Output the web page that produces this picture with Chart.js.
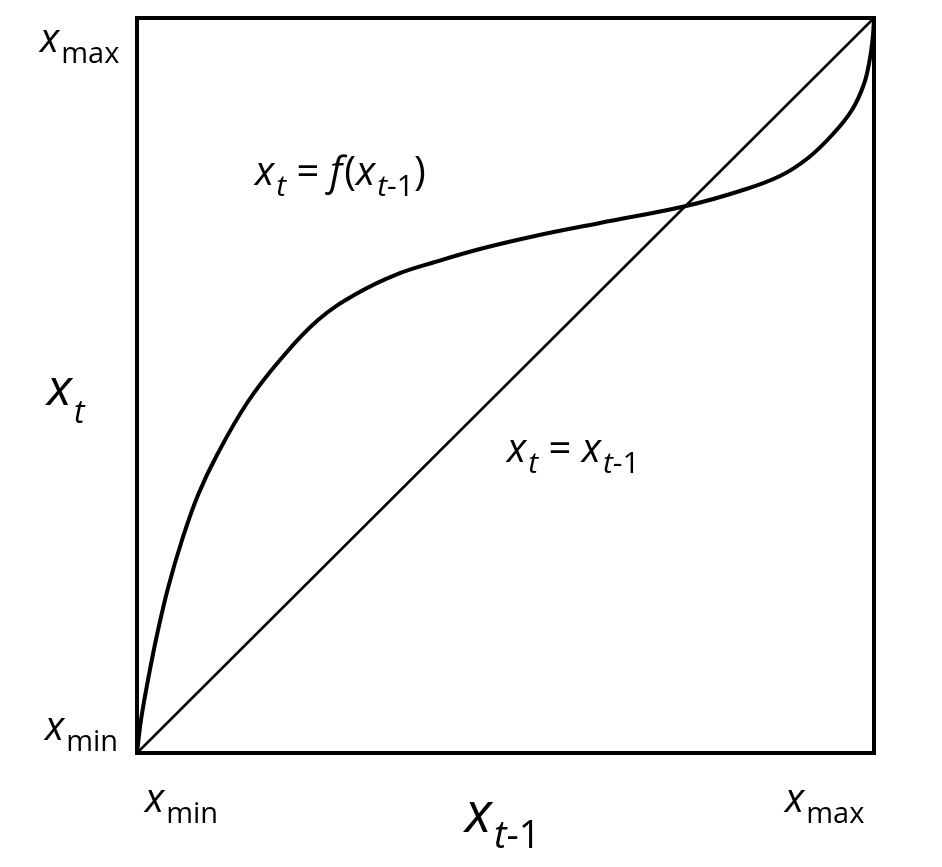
<!DOCTYPE html>
<html>
<head>
<meta charset="utf-8">
<title>Cobweb map</title>
<script src="https://cdn.jsdelivr.net/npm/chart.js@4/dist/chart.umd.min.js"></script>
<style>
  html, body { margin: 0; padding: 0; background: #fff; }
  canvas { display: block; }
</style>
</head>
<body>
<canvas id="chart" width="942" height="867"></canvas>
<script>
// ── Data (fraction of the range xmin..xmax) ────────────────────────────────
const curveX = [0, 0.0054, 0.0149, 0.0271, 0.0421, 0.0611, 0.0828, 0.1085, 0.1493, 0.194,
  0.2456, 0.2972, 0.3501, 0.4043, 0.4654, 0.54, 0.6282, 0.7449, 0.8182, 0.8725,
  0.9105, 0.9444, 0.9701, 0.9864, 0.9946, 0.9986, 1];
const curveY = [0, 0.0449, 0.0993, 0.1605, 0.2245, 0.2898, 0.351, 0.4054, 0.4762, 0.5347,
  0.5891, 0.6245, 0.6503, 0.668, 0.6857, 0.7034, 0.7211, 0.7442, 0.7646, 0.785,
  0.8095, 0.8422, 0.8748, 0.9102, 0.9456, 0.9769, 1];
const diagX = [0, 1];
const diagY = [0, 1];

const FONT = '"Open Sans", "DejaVu Sans", sans-serif';

// text pieces: [text, size, italic, subscript]
const labels = [
  { x: 40, y: 52, runs: [['x', 40, true, false], ['max', 29, false, true]] },
  { x: 45, y: 740, runs: [['x', 40, true, false], ['min', 29, false, true]] },
  { x: 145, y: 812, runs: [['x', 40, true, false], ['min', 29, false, true]] },
  { x: 785, y: 812, runs: [['x', 40, true, false], ['max', 29, false, true]] },
  { x: 47, y: 405, runs: [['x', 52, true, false], ['t', 32, true, true]], sub: 18 },
  { x: 465, y: 832, runs: [['x', 56, true, false], ['t', 38, true, true], ['-1', 38, false, true]], sub: 16 },
  { x: 255, y: 185, runs: [['x', 40, true, false], ['t', 30, true, true], [' = ', 40, false, false],
    ['f', 40, true, false], ['(', 40, false, false], ['x', 40, true, false],
    ['t', 30, true, true], ['-1', 30, false, true], [')', 40, false, false]] },
  { x: 507, y: 462, runs: [['x', 40, true, false], ['t', 30, true, true], [' = ', 40, false, false],
    ['x', 40, true, false], ['t', 30, true, true], ['-1', 30, false, true]] },
];

const toPoints = (xs, ys) => xs.map((x, i) => ({ x, y: ys[i] }));

// ── Plugin: frame + math labels ─────────────────────────────────────────────
const framePlugin = {
  id: 'frame',
  afterDraw(chart) {
    const { ctx, chartArea: a } = chart;
    ctx.save();
    ctx.strokeStyle = '#000';
    ctx.lineWidth = 4;
    ctx.strokeRect(a.left, a.top, a.right - a.left, a.bottom - a.top);

    ctx.fillStyle = '#000';
    ctx.textBaseline = 'alphabetic';
    labels.forEach(l => {
      let x = l.x;
      const subDy = l.sub || 11;
      l.runs.forEach(([t, s, it, sub]) => {
        ctx.font = `${it ? 'italic ' : ''}${s}px ${FONT}`;
        ctx.fillText(t, x, l.y + (sub ? subDy : 0));
        x += ctx.measureText(t).width + (it && !sub ? 2 : 0);
      });
    });
    ctx.restore();
  },
};

new Chart(document.getElementById('chart'), {
  type: 'scatter',
  data: {
    datasets: [
      {
        data: toPoints(curveX, curveY),
        showLine: true,
        borderColor: '#000',
        borderWidth: 4,
        pointRadius: 0,
        tension: 0.4,
        clip: 6,
      },
      {
        data: toPoints(diagX, diagY),
        showLine: true,
        borderColor: '#000',
        borderWidth: 2.5,
        pointRadius: 0,
        clip: 6,
      },
    ],
  },
  options: {
    responsive: false,
    animation: false,
    layout: { padding: { left: 137, top: 18, right: 68, bottom: 114 } },
    plugins: { legend: { display: false }, tooltip: { enabled: false } },
    scales: {
      x: { type: 'linear', min: 0, max: 1, display: false },
      y: { type: 'linear', min: 0, max: 1, display: false },
    },
  },
  plugins: [framePlugin],
});
</script>
</body>
</html>
